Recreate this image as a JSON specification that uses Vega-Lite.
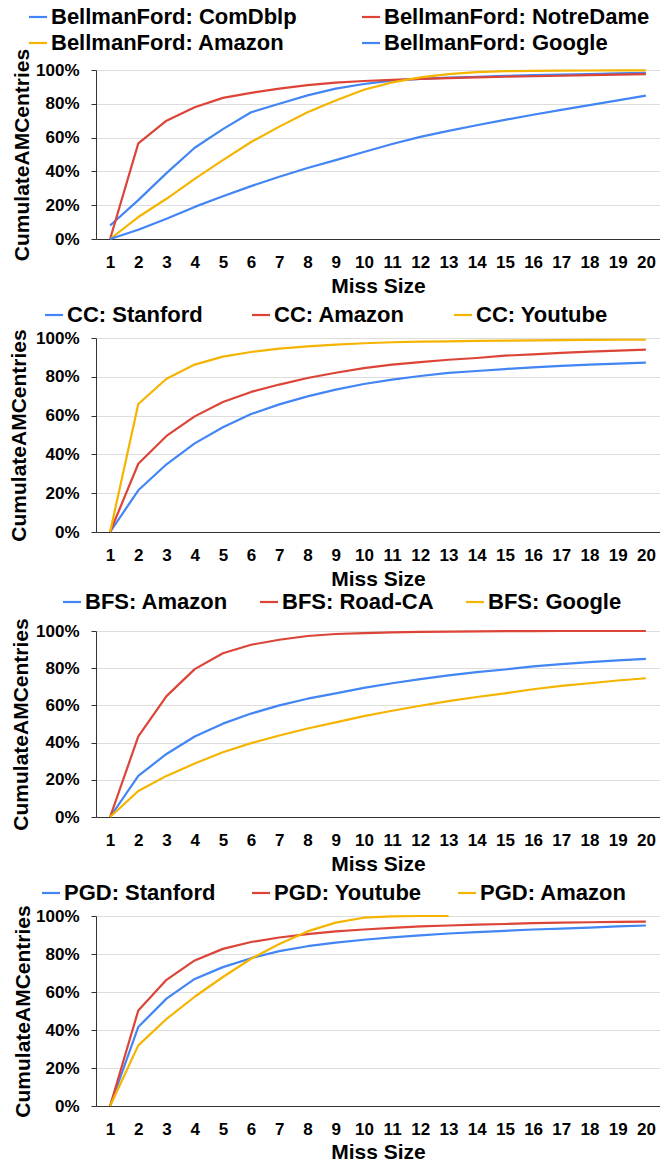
{
  "$schema": "https://vega.github.io/schema/vega-lite/v6.json",
  "autosize": {"type": "pad"},
  "padding": {"left": 8, "top": 6, "right": 0, "bottom": 0},
  "spacing": 99,
  "bounds": "flush",
  "config": {
    "font": "Liberation Sans",
    "view": {"stroke": null},
    "axis": {
      "labelFont": "Liberation Sans", "labelFontSize": 17, "labelFontWeight": "bold", "labelColor": "#000000",
      "titleFont": "Liberation Sans", "titleFontSize": 21, "titleFontWeight": "bold", "titleColor": "#000000",
      "domainColor": "#333333", "domainWidth": 1, "tickColor": "#333333", "gridColor": "#DDDDDD", "gridWidth": 1
    },
    "axisX": {"grid": false, "ticks": false, "labelAngle": 0, "labelPadding": 28, "labelBaseline": "alphabetic", "titleBaseline": "alphabetic", "titleY": 53},
    "axisY": {"grid": true, "tickSize": 5, "labelPadding": 12, "labelFlush": false, "titleBaseline": "alphabetic", "titleAngle": 270},
    "legend": {
      "orient": "none", "direction": "horizontal", "title": null, "padding": 0,
      "labelFont": "Liberation Sans", "labelFontSize": 22, "labelFontWeight": "bold", "labelColor": "#000000",
      "labelLimit": 0, "labelOffset": 2, "symbolType": "stroke", "symbolSize": 324, "rowPadding": 4
    },
    "line": {"strokeWidth": 2.2, "strokeJoin": "round"}
  },
  "datasets": {
    "p1": [
      {"s": "BellmanFord: ComDblp", "x": 1, "y": 8}, {"s": "BellmanFord: ComDblp", "x": 2, "y": 23}, {"s": "BellmanFord: ComDblp", "x": 3, "y": 39}, {"s": "BellmanFord: ComDblp", "x": 4, "y": 54}, {"s": "BellmanFord: ComDblp", "x": 5, "y": 65}, {"s": "BellmanFord: ComDblp", "x": 6, "y": 75}, {"s": "BellmanFord: ComDblp", "x": 7, "y": 80}, {"s": "BellmanFord: ComDblp", "x": 8, "y": 85}, {"s": "BellmanFord: ComDblp", "x": 9, "y": 89}, {"s": "BellmanFord: ComDblp", "x": 10, "y": 91.7}, {"s": "BellmanFord: ComDblp", "x": 11, "y": 93.7}, {"s": "BellmanFord: ComDblp", "x": 12, "y": 94.7}, {"s": "BellmanFord: ComDblp", "x": 13, "y": 95.5}, {"s": "BellmanFord: ComDblp", "x": 14, "y": 96}, {"s": "BellmanFord: ComDblp", "x": 15, "y": 96.5}, {"s": "BellmanFord: ComDblp", "x": 16, "y": 97}, {"s": "BellmanFord: ComDblp", "x": 17, "y": 97.3}, {"s": "BellmanFord: ComDblp", "x": 18, "y": 97.6}, {"s": "BellmanFord: ComDblp", "x": 19, "y": 98}, {"s": "BellmanFord: ComDblp", "x": 20, "y": 98.3},
      {"s": "BellmanFord: NotreDame", "x": 1, "y": 0}, {"s": "BellmanFord: NotreDame", "x": 2, "y": 56.6}, {"s": "BellmanFord: NotreDame", "x": 3, "y": 70}, {"s": "BellmanFord: NotreDame", "x": 4, "y": 78}, {"s": "BellmanFord: NotreDame", "x": 5, "y": 83.5}, {"s": "BellmanFord: NotreDame", "x": 6, "y": 86.5}, {"s": "BellmanFord: NotreDame", "x": 7, "y": 89}, {"s": "BellmanFord: NotreDame", "x": 8, "y": 91}, {"s": "BellmanFord: NotreDame", "x": 9, "y": 92.5}, {"s": "BellmanFord: NotreDame", "x": 10, "y": 93.5}, {"s": "BellmanFord: NotreDame", "x": 11, "y": 94.2}, {"s": "BellmanFord: NotreDame", "x": 12, "y": 94.8}, {"s": "BellmanFord: NotreDame", "x": 13, "y": 95.2}, {"s": "BellmanFord: NotreDame", "x": 14, "y": 95.6}, {"s": "BellmanFord: NotreDame", "x": 15, "y": 96}, {"s": "BellmanFord: NotreDame", "x": 16, "y": 96.3}, {"s": "BellmanFord: NotreDame", "x": 17, "y": 96.6}, {"s": "BellmanFord: NotreDame", "x": 18, "y": 97}, {"s": "BellmanFord: NotreDame", "x": 19, "y": 97.3}, {"s": "BellmanFord: NotreDame", "x": 20, "y": 97.6},
      {"s": "BellmanFord: Amazon", "x": 1, "y": 0}, {"s": "BellmanFord: Amazon", "x": 2, "y": 13}, {"s": "BellmanFord: Amazon", "x": 3, "y": 23.8}, {"s": "BellmanFord: Amazon", "x": 4, "y": 35.6}, {"s": "BellmanFord: Amazon", "x": 5, "y": 46.7}, {"s": "BellmanFord: Amazon", "x": 6, "y": 57.4}, {"s": "BellmanFord: Amazon", "x": 7, "y": 66.5}, {"s": "BellmanFord: Amazon", "x": 8, "y": 75}, {"s": "BellmanFord: Amazon", "x": 9, "y": 82}, {"s": "BellmanFord: Amazon", "x": 10, "y": 88.3}, {"s": "BellmanFord: Amazon", "x": 11, "y": 92.7}, {"s": "BellmanFord: Amazon", "x": 12, "y": 95.6}, {"s": "BellmanFord: Amazon", "x": 13, "y": 97.6}, {"s": "BellmanFord: Amazon", "x": 14, "y": 98.8}, {"s": "BellmanFord: Amazon", "x": 15, "y": 99.3}, {"s": "BellmanFord: Amazon", "x": 16, "y": 99.5}, {"s": "BellmanFord: Amazon", "x": 17, "y": 99.6}, {"s": "BellmanFord: Amazon", "x": 18, "y": 99.7}, {"s": "BellmanFord: Amazon", "x": 19, "y": 99.8}, {"s": "BellmanFord: Amazon", "x": 20, "y": 99.8},
      {"s": "BellmanFord: Google", "x": 1, "y": 0}, {"s": "BellmanFord: Google", "x": 2, "y": 5.5}, {"s": "BellmanFord: Google", "x": 3, "y": 12}, {"s": "BellmanFord: Google", "x": 4, "y": 19}, {"s": "BellmanFord: Google", "x": 5, "y": 25.3}, {"s": "BellmanFord: Google", "x": 6, "y": 31.3}, {"s": "BellmanFord: Google", "x": 7, "y": 36.8}, {"s": "BellmanFord: Google", "x": 8, "y": 42}, {"s": "BellmanFord: Google", "x": 9, "y": 46.7}, {"s": "BellmanFord: Google", "x": 10, "y": 51.5}, {"s": "BellmanFord: Google", "x": 11, "y": 56.2}, {"s": "BellmanFord: Google", "x": 12, "y": 60.4}, {"s": "BellmanFord: Google", "x": 13, "y": 64}, {"s": "BellmanFord: Google", "x": 14, "y": 67.3}, {"s": "BellmanFord: Google", "x": 15, "y": 70.5}, {"s": "BellmanFord: Google", "x": 16, "y": 73.5}, {"s": "BellmanFord: Google", "x": 17, "y": 76.4}, {"s": "BellmanFord: Google", "x": 18, "y": 79.2}, {"s": "BellmanFord: Google", "x": 19, "y": 82}, {"s": "BellmanFord: Google", "x": 20, "y": 84.8}
    ],
    "p2": [
      {"s": "CC: Stanford", "x": 1, "y": 0}, {"s": "CC: Stanford", "x": 2, "y": 21.5}, {"s": "CC: Stanford", "x": 3, "y": 34.9}, {"s": "CC: Stanford", "x": 4, "y": 45.7}, {"s": "CC: Stanford", "x": 5, "y": 54}, {"s": "CC: Stanford", "x": 6, "y": 60.8}, {"s": "CC: Stanford", "x": 7, "y": 65.8}, {"s": "CC: Stanford", "x": 8, "y": 69.9}, {"s": "CC: Stanford", "x": 9, "y": 73.4}, {"s": "CC: Stanford", "x": 10, "y": 76.3}, {"s": "CC: Stanford", "x": 11, "y": 78.5}, {"s": "CC: Stanford", "x": 12, "y": 80.4}, {"s": "CC: Stanford", "x": 13, "y": 82}, {"s": "CC: Stanford", "x": 14, "y": 83}, {"s": "CC: Stanford", "x": 15, "y": 84}, {"s": "CC: Stanford", "x": 16, "y": 84.9}, {"s": "CC: Stanford", "x": 17, "y": 85.6}, {"s": "CC: Stanford", "x": 18, "y": 86.3}, {"s": "CC: Stanford", "x": 19, "y": 86.8}, {"s": "CC: Stanford", "x": 20, "y": 87.3},
      {"s": "CC: Amazon", "x": 1, "y": 0}, {"s": "CC: Amazon", "x": 2, "y": 35.2}, {"s": "CC: Amazon", "x": 3, "y": 49.5}, {"s": "CC: Amazon", "x": 4, "y": 59.6}, {"s": "CC: Amazon", "x": 5, "y": 67}, {"s": "CC: Amazon", "x": 6, "y": 72.2}, {"s": "CC: Amazon", "x": 7, "y": 76}, {"s": "CC: Amazon", "x": 8, "y": 79.4}, {"s": "CC: Amazon", "x": 9, "y": 82.1}, {"s": "CC: Amazon", "x": 10, "y": 84.5}, {"s": "CC: Amazon", "x": 11, "y": 86.3}, {"s": "CC: Amazon", "x": 12, "y": 87.6}, {"s": "CC: Amazon", "x": 13, "y": 88.8}, {"s": "CC: Amazon", "x": 14, "y": 89.7}, {"s": "CC: Amazon", "x": 15, "y": 90.9}, {"s": "CC: Amazon", "x": 16, "y": 91.6}, {"s": "CC: Amazon", "x": 17, "y": 92.3}, {"s": "CC: Amazon", "x": 18, "y": 93}, {"s": "CC: Amazon", "x": 19, "y": 93.5}, {"s": "CC: Amazon", "x": 20, "y": 94},
      {"s": "CC: Youtube", "x": 1, "y": 0}, {"s": "CC: Youtube", "x": 2, "y": 66}, {"s": "CC: Youtube", "x": 3, "y": 79}, {"s": "CC: Youtube", "x": 4, "y": 86.3}, {"s": "CC: Youtube", "x": 5, "y": 90.4}, {"s": "CC: Youtube", "x": 6, "y": 92.8}, {"s": "CC: Youtube", "x": 7, "y": 94.5}, {"s": "CC: Youtube", "x": 8, "y": 95.7}, {"s": "CC: Youtube", "x": 9, "y": 96.6}, {"s": "CC: Youtube", "x": 10, "y": 97.3}, {"s": "CC: Youtube", "x": 11, "y": 97.8}, {"s": "CC: Youtube", "x": 12, "y": 98.1}, {"s": "CC: Youtube", "x": 13, "y": 98.3}, {"s": "CC: Youtube", "x": 14, "y": 98.5}, {"s": "CC: Youtube", "x": 15, "y": 98.6}, {"s": "CC: Youtube", "x": 16, "y": 98.8}, {"s": "CC: Youtube", "x": 17, "y": 98.9}, {"s": "CC: Youtube", "x": 18, "y": 99}, {"s": "CC: Youtube", "x": 19, "y": 99.1}, {"s": "CC: Youtube", "x": 20, "y": 99.1}
    ],
    "p3": [
      {"s": "BFS: Amazon", "x": 1, "y": 0}, {"s": "BFS: Amazon", "x": 2, "y": 22.1}, {"s": "BFS: Amazon", "x": 3, "y": 33.9}, {"s": "BFS: Amazon", "x": 4, "y": 43.3}, {"s": "BFS: Amazon", "x": 5, "y": 50.2}, {"s": "BFS: Amazon", "x": 6, "y": 55.6}, {"s": "BFS: Amazon", "x": 7, "y": 60}, {"s": "BFS: Amazon", "x": 8, "y": 63.6}, {"s": "BFS: Amazon", "x": 9, "y": 66.5}, {"s": "BFS: Amazon", "x": 10, "y": 69.4}, {"s": "BFS: Amazon", "x": 11, "y": 71.9}, {"s": "BFS: Amazon", "x": 12, "y": 74.1}, {"s": "BFS: Amazon", "x": 13, "y": 76.1}, {"s": "BFS: Amazon", "x": 14, "y": 77.9}, {"s": "BFS: Amazon", "x": 15, "y": 79.3}, {"s": "BFS: Amazon", "x": 16, "y": 81}, {"s": "BFS: Amazon", "x": 17, "y": 82.2}, {"s": "BFS: Amazon", "x": 18, "y": 83.3}, {"s": "BFS: Amazon", "x": 19, "y": 84.2}, {"s": "BFS: Amazon", "x": 20, "y": 85},
      {"s": "BFS: Road-CA", "x": 1, "y": 0}, {"s": "BFS: Road-CA", "x": 2, "y": 43.3}, {"s": "BFS: Road-CA", "x": 3, "y": 65}, {"s": "BFS: Road-CA", "x": 4, "y": 79.5}, {"s": "BFS: Road-CA", "x": 5, "y": 88}, {"s": "BFS: Road-CA", "x": 6, "y": 92.6}, {"s": "BFS: Road-CA", "x": 7, "y": 95.3}, {"s": "BFS: Road-CA", "x": 8, "y": 97.3}, {"s": "BFS: Road-CA", "x": 9, "y": 98.4}, {"s": "BFS: Road-CA", "x": 10, "y": 98.9}, {"s": "BFS: Road-CA", "x": 11, "y": 99.3}, {"s": "BFS: Road-CA", "x": 12, "y": 99.5}, {"s": "BFS: Road-CA", "x": 13, "y": 99.7}, {"s": "BFS: Road-CA", "x": 14, "y": 99.8}, {"s": "BFS: Road-CA", "x": 15, "y": 99.9}, {"s": "BFS: Road-CA", "x": 16, "y": 99.9}, {"s": "BFS: Road-CA", "x": 17, "y": 100}, {"s": "BFS: Road-CA", "x": 18, "y": 100}, {"s": "BFS: Road-CA", "x": 19, "y": 100}, {"s": "BFS: Road-CA", "x": 20, "y": 100},
      {"s": "BFS: Google", "x": 1, "y": 0}, {"s": "BFS: Google", "x": 2, "y": 14}, {"s": "BFS: Google", "x": 3, "y": 22.1}, {"s": "BFS: Google", "x": 4, "y": 28.8}, {"s": "BFS: Google", "x": 5, "y": 34.8}, {"s": "BFS: Google", "x": 6, "y": 39.7}, {"s": "BFS: Google", "x": 7, "y": 43.8}, {"s": "BFS: Google", "x": 8, "y": 47.6}, {"s": "BFS: Google", "x": 9, "y": 50.9}, {"s": "BFS: Google", "x": 10, "y": 54.2}, {"s": "BFS: Google", "x": 11, "y": 57.1}, {"s": "BFS: Google", "x": 12, "y": 59.8}, {"s": "BFS: Google", "x": 13, "y": 62.3}, {"s": "BFS: Google", "x": 14, "y": 64.5}, {"s": "BFS: Google", "x": 15, "y": 66.5}, {"s": "BFS: Google", "x": 16, "y": 68.7}, {"s": "BFS: Google", "x": 17, "y": 70.5}, {"s": "BFS: Google", "x": 18, "y": 71.9}, {"s": "BFS: Google", "x": 19, "y": 73.4}, {"s": "BFS: Google", "x": 20, "y": 74.6}
    ],
    "p4": [
      {"s": "PGD: Stanford", "x": 1, "y": 0}, {"s": "PGD: Stanford", "x": 2, "y": 41.6}, {"s": "PGD: Stanford", "x": 3, "y": 56.5}, {"s": "PGD: Stanford", "x": 4, "y": 66.9}, {"s": "PGD: Stanford", "x": 5, "y": 73.1}, {"s": "PGD: Stanford", "x": 6, "y": 77.8}, {"s": "PGD: Stanford", "x": 7, "y": 81.5}, {"s": "PGD: Stanford", "x": 8, "y": 84.1}, {"s": "PGD: Stanford", "x": 9, "y": 86}, {"s": "PGD: Stanford", "x": 10, "y": 87.5}, {"s": "PGD: Stanford", "x": 11, "y": 88.7}, {"s": "PGD: Stanford", "x": 12, "y": 89.8}, {"s": "PGD: Stanford", "x": 13, "y": 90.8}, {"s": "PGD: Stanford", "x": 14, "y": 91.5}, {"s": "PGD: Stanford", "x": 15, "y": 92.2}, {"s": "PGD: Stanford", "x": 16, "y": 92.9}, {"s": "PGD: Stanford", "x": 17, "y": 93.4}, {"s": "PGD: Stanford", "x": 18, "y": 93.9}, {"s": "PGD: Stanford", "x": 19, "y": 94.5}, {"s": "PGD: Stanford", "x": 20, "y": 95},
      {"s": "PGD: Youtube", "x": 1, "y": 0}, {"s": "PGD: Youtube", "x": 2, "y": 50.3}, {"s": "PGD: Youtube", "x": 3, "y": 66.4}, {"s": "PGD: Youtube", "x": 4, "y": 76.6}, {"s": "PGD: Youtube", "x": 5, "y": 82.7}, {"s": "PGD: Youtube", "x": 6, "y": 86.3}, {"s": "PGD: Youtube", "x": 7, "y": 88.7}, {"s": "PGD: Youtube", "x": 8, "y": 90.5}, {"s": "PGD: Youtube", "x": 9, "y": 91.9}, {"s": "PGD: Youtube", "x": 10, "y": 92.9}, {"s": "PGD: Youtube", "x": 11, "y": 93.8}, {"s": "PGD: Youtube", "x": 12, "y": 94.5}, {"s": "PGD: Youtube", "x": 13, "y": 95}, {"s": "PGD: Youtube", "x": 14, "y": 95.5}, {"s": "PGD: Youtube", "x": 15, "y": 95.8}, {"s": "PGD: Youtube", "x": 16, "y": 96.2}, {"s": "PGD: Youtube", "x": 17, "y": 96.5}, {"s": "PGD: Youtube", "x": 18, "y": 96.7}, {"s": "PGD: Youtube", "x": 19, "y": 96.9}, {"s": "PGD: Youtube", "x": 20, "y": 97},
      {"s": "PGD: Amazon", "x": 1, "y": 0}, {"s": "PGD: Amazon", "x": 2, "y": 31.9}, {"s": "PGD: Amazon", "x": 3, "y": 45.8}, {"s": "PGD: Amazon", "x": 4, "y": 57.5}, {"s": "PGD: Amazon", "x": 5, "y": 67.9}, {"s": "PGD: Amazon", "x": 6, "y": 77.5}, {"s": "PGD: Amazon", "x": 7, "y": 85.3}, {"s": "PGD: Amazon", "x": 8, "y": 91.9}, {"s": "PGD: Amazon", "x": 9, "y": 96.5}, {"s": "PGD: Amazon", "x": 10, "y": 99.1}, {"s": "PGD: Amazon", "x": 11, "y": 99.8}, {"s": "PGD: Amazon", "x": 12, "y": 100}, {"s": "PGD: Amazon", "x": 13, "y": 100}
    ]
  },
  "resolve": {"scale": {"color": "independent", "strokeWidth": "independent"}, "legend": {"color": "independent", "strokeWidth": "independent"}},
  "vconcat": [
    {
      "width": 564, "height": 169,
      "data": {"name": "p1"},
      "mark": {"type": "line"},
      "encoding": {
        "x": {"field": "x", "type": "ordinal", "scale": {"type": "point", "padding": 0.5}, "axis": {"title": "Miss Size"}},
        "y": {"field": "y", "type": "quantitative", "scale": {"domain": [0, 100], "nice": false}, "axis": {"title": "CumulateAMCentries", "values": [0, 20, 40, 60, 80, 100], "labelExpr": "datum.value + '%'", "titleX": -68, "titleY": 84.5}},
        "color": {"field": "s", "type": "nominal", "scale": {"domain": ["BellmanFord: ComDblp", "BellmanFord: NotreDame", "BellmanFord: Amazon", "BellmanFord: Google"], "range": ["#4285F4", "#DB4437", "#F4B400", "#4285F4"]}, "legend": {"legendX": -69, "legendY": -64, "columns": 2, "columnPadding": 63}},
        "strokeWidth": {"field": "s", "type": "nominal", "scale": {"domain": ["BellmanFord: ComDblp", "BellmanFord: NotreDame", "BellmanFord: Amazon", "BellmanFord: Google"], "range": [2.2, 2.2, 2.2, 1.3]}, "legend": {"legendX": -69, "legendY": -64, "columns": 2, "columnPadding": 63}}
      }
    },
    {
      "width": 564, "height": 194,
      "data": {"name": "p2"},
      "mark": {"type": "line"},
      "encoding": {
        "x": {"field": "x", "type": "ordinal", "scale": {"type": "point", "padding": 0.5}, "axis": {"title": "Miss Size"}},
        "y": {"field": "y", "type": "quantitative", "scale": {"domain": [0, 100], "nice": false}, "axis": {"title": "CumulateAMCentries", "values": [0, 20, 40, 60, 80, 100], "labelExpr": "datum.value + '%'", "titleX": -71, "titleY": 97}},
        "color": {"field": "s", "type": "nominal", "scale": {"domain": ["CC: Stanford", "CC: Amazon", "CC: Youtube"], "range": ["#4285F4", "#DB4437", "#F4B400"]}, "legend": {"legendX": -53, "legendY": -34, "columnPadding": 47, "symbolStrokeWidth": 2.5}}
      }
    },
    {
      "width": 564, "height": 186,
      "data": {"name": "p3"},
      "mark": {"type": "line"},
      "encoding": {
        "x": {"field": "x", "type": "ordinal", "scale": {"type": "point", "padding": 0.5}, "axis": {"title": "Miss Size"}},
        "y": {"field": "y", "type": "quantitative", "scale": {"domain": [0, 100], "nice": false}, "axis": {"title": "CumulateAMCentries", "values": [0, 20, 40, 60, 80, 100], "labelExpr": "datum.value + '%'", "titleX": -69, "titleY": 93}},
        "color": {"field": "s", "type": "nominal", "scale": {"domain": ["BFS: Amazon", "BFS: Road-CA", "BFS: Google"], "range": ["#4285F4", "#DB4437", "#F4B400"]}, "legend": {"legendX": -35, "legendY": -40, "columnPadding": 30, "symbolStrokeWidth": 2.5}}
      }
    },
    {
      "width": 564, "height": 190,
      "data": {"name": "p4"},
      "mark": {"type": "line"},
      "encoding": {
        "x": {"field": "x", "type": "ordinal", "scale": {"type": "point", "padding": 0.5}, "axis": {"title": "Miss Size", "titleY": 52}},
        "y": {"field": "y", "type": "quantitative", "scale": {"domain": [0, 100], "nice": false}, "axis": {"title": "CumulateAMCentries", "values": [0, 20, 40, 60, 80, 100], "labelExpr": "datum.value + '%'", "titleX": -67, "titleY": 95}},
        "color": {"field": "s", "type": "nominal", "scale": {"domain": ["PGD: Stanford", "PGD: Youtube", "PGD: Amazon"], "range": ["#4285F4", "#DB4437", "#F4B400"]}, "legend": {"legendX": -56, "legendY": -34, "columnPadding": 34, "symbolStrokeWidth": 2.5}}
      }
    }
  ]
}
